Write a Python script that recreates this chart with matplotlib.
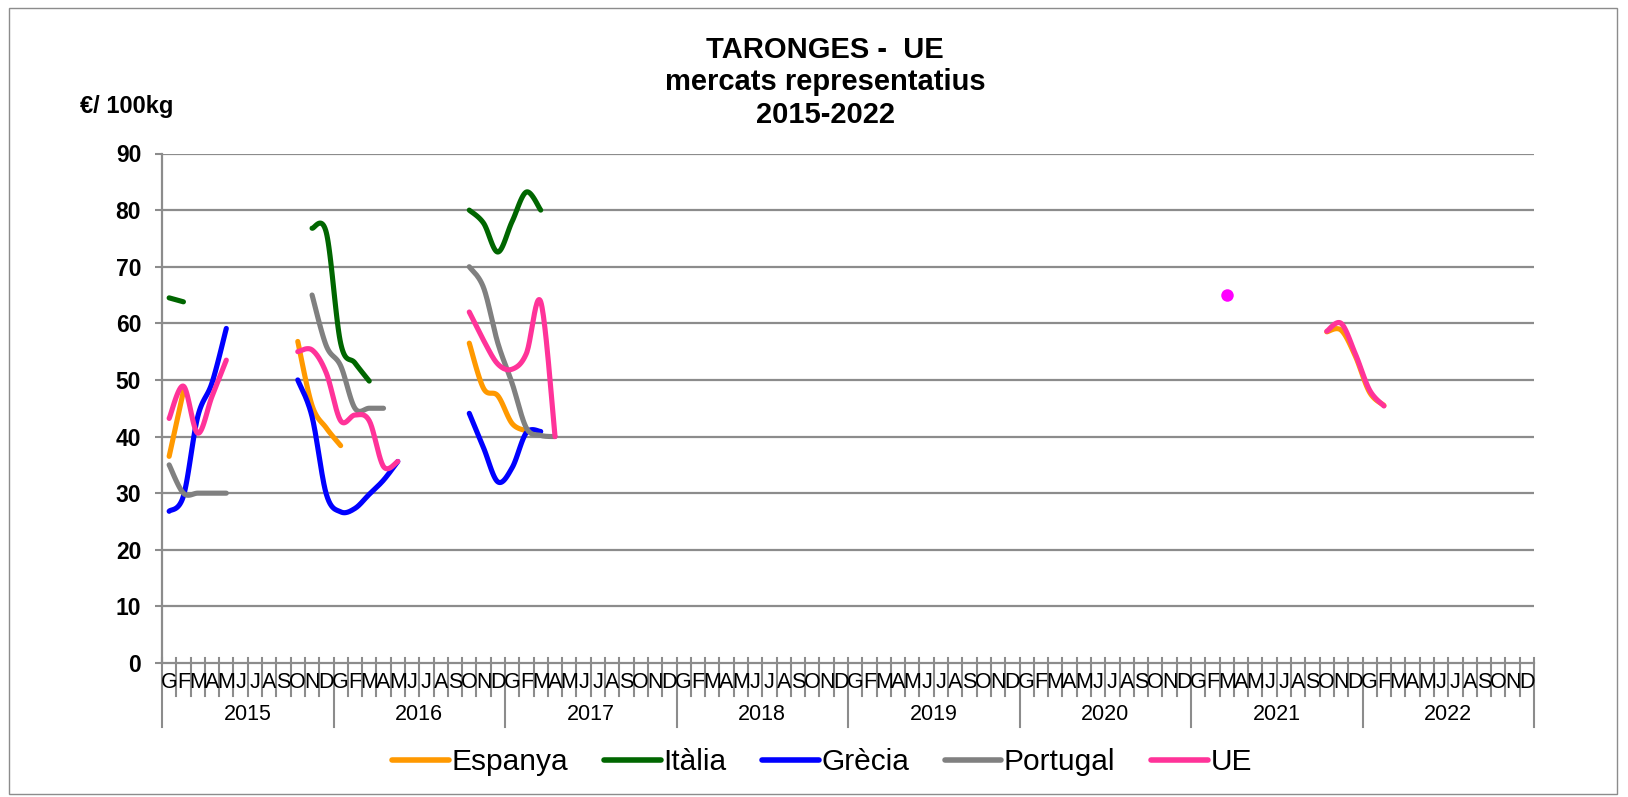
import numpy as np
import matplotlib
matplotlib.use("Agg")
import matplotlib.pyplot as plt
import matplotlib.transforms as mtransforms
from matplotlib.lines import Line2D

plt.rcParams['font.family'] = ['Liberation Sans', 'DejaVu Sans']

# ========== 数据（€/100kg，每个片段从给定月份开始连续取值） ==========
month_labels = ["G", "F", "M", "A", "M", "J", "J", "A", "S", "O", "N", "D"]
years = [2015, 2016, 2017, 2018, 2019, 2020, 2021, 2022]

espanya = {
    "2015-01": [36.5, 48.0],
    "2015-10": [56.8, 45.5, 41.5, 38.4],
    "2016-10": [56.5, 48.5, 47.2, 42.3, 41.0],
    "2021-10": [58.5, 58.8, 54.2, 47.8, 45.5],
}
italia = {
    "2015-01": [64.5, 63.8],
    "2015-11": [76.8, 76.0, 56.5, 53.0, 49.8],
    "2016-10": [80.0, 77.7, 72.6, 78.0, 83.2, 80.0],
}
grecia = {
    "2015-01": [26.8, 29.5, 43.5, 49.5, 59.1],
    "2015-10": [50.0, 43.5, 29.8, 26.7, 27.3, 29.8, 32.3, 35.6],
    "2016-10": [44.1, 38.0, 32.0, 34.5, 40.7, 40.9],
}
portugal = {
    "2015-01": [35.0, 30.0, 30.0, 30.0, 30.0],
    "2015-11": [65.0, 56.0, 52.5, 45.0, 45.0, 45.0],
    "2016-10": [70.0, 66.3, 56.5, 49.4, 41.5, 40.2, 40.0],
}
ue = {
    "2015-01": [43.2, 48.9, 40.6, 47.1, 53.5],
    "2015-10": [55.0, 55.3, 51.2, 42.8, 43.8, 42.8, 34.7, 35.6],
    "2016-10": [62.0, 57.0, 52.8, 51.9, 54.7, 63.8, 40.0],
    "2021-10": [58.6, 60.0, 54.6, 48.2, 45.4],
}
ue_punt = {"2021-03": [65.0]}

series_names = ["Espanya", "Itàlia", "Grècia", "Portugal", "UE"]
series_data = [espanya, italia, grecia, portugal, ue]
series_colors = ["#FF9900", "#006600", "#0000FF", "#808080", "#FF3399"]

GRAY = "#8C8C8C"
W, H = 1628, 797


def month_index(key):
    y, m = key.split("-")
    return (int(y) - years[0]) * 12 + int(m) - 1


def smooth(xs, ys, n=24):
    # 类似 Excel 平滑线的贝塞尔曲线
    P = np.column_stack([xs, ys]).astype(float)
    if len(P) < 2:
        return P
    ext = np.vstack([P[0], P, P[-1]])
    t = np.linspace(0, 1, n)[:, None]
    out = []
    for i in range(len(P) - 1):
        p0, p1, p2, p3 = ext[i], ext[i + 1], ext[i + 2], ext[i + 3]
        c1 = p1 + (p2 - p0) / 6
        c2 = p2 - (p3 - p1) / 6
        seg = (1 - t) ** 3 * p1 + 3 * (1 - t) ** 2 * t * c1 + 3 * (1 - t) * t ** 2 * c2 + t ** 3 * p2
        out.append(seg if i == 0 else seg[1:])
    return np.vstack(out)


fig = plt.figure(figsize=(W / 100, H / 100), dpi=100)
ax_l, ax_r, ax_t, ax_b = 162, 1534, 153.5, 663
ax = fig.add_axes([ax_l / W, 1 - ax_b / H, (ax_r - ax_l) / W, (ax_b - ax_t) / H])
ah = ax_b - ax_t
n_months = 12 * len(years)

ax.set_xlim(0, n_months)
ax.set_ylim(0, 90)

# 网格线
for v in range(10, 100, 10):
    ax.axhline(v, color=GRAY, lw=1.6, zorder=1)

for s in ["top", "right"]:
    ax.spines[s].set_visible(False)
for s in ["left", "bottom"]:
    ax.spines[s].set_color(GRAY)
    ax.spines[s].set_linewidth(1.6)

ax.set_yticks(range(0, 100, 10))
ax.tick_params(axis="y", length=5, width=1.5, color=GRAY, pad=10, labelsize=16.5)
for lbl in ax.get_yticklabels():
    lbl.set_fontweight("bold")
ax.set_xticks([])

# 月份刻度与年份分隔线
blend = mtransforms.blended_transform_factory(ax.transData, ax.transAxes)
for i in range(n_months + 1):
    y0 = -64 / ah if i % 12 == 0 else -33 / ah
    ax.plot([i, i], [5 / ah, y0], transform=blend, color=GRAY, lw=1.5, clip_on=False, zorder=1)
for i in range(n_months):
    ax.text(i + 0.5, -19 / ah, month_labels[i % 12], transform=blend, ha="center", va="center",
            fontsize=15.5, zorder=3)
for k, yr in enumerate(years):
    ax.text(12 * k + 6, -52 / ah, str(yr), transform=blend, ha="center", va="center", fontsize=15.5)

# 曲线
for name, data, col in zip(series_names, series_data, series_colors):
    for key, vals in data.items():
        start = month_index(key)
        xs = np.arange(start, start + len(vals)) + 0.5
        pts = smooth(xs, vals)
        ax.plot(pts[:, 0], pts[:, 1], color=col, lw=3.7, solid_capstyle="round", zorder=4)

for key, vals in ue_punt.items():
    ax.plot([month_index(key) + 0.5], vals, "o", color="#FF00FF", ms=9, mec="none", zorder=5)

# 标题与单位
fig.text(825 / W, 1 - 49.5 / H, "TARONGES -  UE", ha="center", va="center", fontsize=21, fontweight="bold")
fig.text(825 / W, 1 - 82 / H, "mercats representatius", ha="center", va="center", fontsize=21, fontweight="bold")
fig.text(825 / W, 1 - 115 / H, "2015-2022", ha="center", va="center", fontsize=21, fontweight="bold")
fig.text(80 / W, 1 - 107 / H, "€/ 100kg", ha="left", va="center", fontsize=17, fontweight="bold")

# 图例
handles = [Line2D([], [], color=c, lw=4.0, solid_capstyle="round") for c in series_colors]
fig.legend(handles, series_names, loc="center", bbox_to_anchor=(822 / W, 1 - 762 / H), ncol=5,
           frameon=False, fontsize=21.5, handlelength=1.9, handletextpad=0.08, columnspacing=1.2)

# 外框
fig.add_artist(plt.Rectangle((9 / W, 3 / H), (1617 - 9) / W, (789 - 3) / H, transform=fig.transFigure,
                             fill=False, edgecolor=GRAY, lw=1.0))

fig.savefig("out.png", dpi=100)
